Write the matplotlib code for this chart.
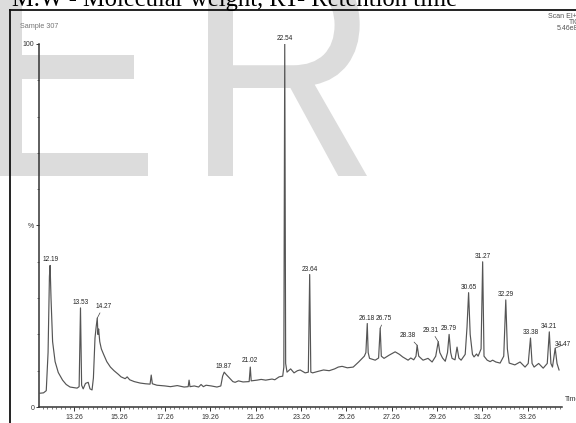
import matplotlib
matplotlib.use("Agg")
import matplotlib.pyplot as plt
import numpy as np
from matplotlib.font_manager import FontProperties
from matplotlib.lines import Line2D
from matplotlib.patches import PathPatch
from matplotlib.textpath import TextPath
from matplotlib.transforms import Affine2D
from matplotlib.ticker import FixedLocator

W, H = 576, 423

# total ion chromatogram (retention time in min, % of base peak)
rt = [
    11.75, 11.90, 12.02, 12.10, 12.16, 12.19, 12.23, 12.30, 12.41, 12.55,
    12.74, 12.90, 13.07, 13.38, 13.47, 13.53, 13.58, 13.65, 13.75, 13.87,
    13.95, 14.04, 14.10, 14.17, 14.22, 14.27, 14.30, 14.33, 14.38, 14.45,
    14.55, 14.69, 14.85, 15.01, 15.20, 15.32, 15.50, 15.59, 15.70, 15.90,
    16.16, 16.40, 16.60, 16.65, 16.70, 16.90, 17.26, 17.50, 17.80, 18.10,
    18.28, 18.32, 18.36, 18.55, 18.74, 18.85, 18.95, 19.07, 19.30, 19.55,
    19.72, 19.80, 19.87, 19.95, 20.10, 20.25, 20.35, 20.50, 20.70, 20.97,
    21.02, 21.06, 21.32, 21.50, 21.70, 21.98, 22.10, 22.29, 22.45, 22.50,
    22.54, 22.58, 22.64, 22.80, 22.95, 23.10, 23.22, 23.44, 23.58, 23.64,
    23.69, 23.77, 24.00, 24.25, 24.50, 24.74, 24.90, 25.07, 25.30, 25.56,
    25.80, 26.05, 26.12, 26.18, 26.22, 26.28, 26.53, 26.68, 26.75, 26.80,
    26.92, 27.15, 27.41, 27.60, 27.74, 27.98, 28.10, 28.23, 28.33, 28.38,
    28.45, 28.64, 28.86, 29.04, 29.20, 29.31, 29.38, 29.50, 29.62, 29.72,
    29.79, 29.86, 29.92, 30.05, 30.14, 30.22, 30.32, 30.50, 30.58, 30.65,
    30.72, 30.82, 30.89, 31.00, 31.07, 31.20, 31.27, 31.33, 31.47, 31.60,
    31.71, 31.85, 32.04, 32.20, 32.29, 32.36, 32.44, 32.69, 32.92, 33.14,
    33.28, 33.38, 33.45, 33.54, 33.74, 33.94, 34.12, 34.21, 34.28, 34.35,
    34.42, 34.47, 34.55, 34.64,
]
tic = [
    3.8, 3.9, 4.5, 15.0, 36.0, 39.0, 30.0, 18.0, 12.5, 9.5,
    7.4, 6.2, 5.5, 5.2, 5.6, 27.3, 6.0, 5.0, 6.5, 6.8,
    5.0, 4.7, 8.0, 19.0, 22.0, 24.5, 20.0, 21.5, 18.0, 16.0,
    14.5, 12.5, 11.0, 10.0, 9.0, 8.3, 7.8, 8.3, 7.5, 7.0,
    6.6, 6.4, 6.3, 8.8, 6.4, 6.0, 5.8, 5.6, 5.9, 5.5,
    5.6, 7.4, 5.6, 5.8, 5.5, 6.2, 5.6, 6.0, 5.8, 5.5,
    5.8, 8.5, 9.6, 9.0, 8.0, 7.0, 6.8, 7.2, 6.9, 7.0,
    11.0, 7.2, 7.4, 7.6, 7.4, 7.7, 7.5, 8.3, 8.5, 11.0,
    100.0, 12.0, 9.6, 10.5, 9.4, 10.0, 10.2, 9.4, 9.6, 36.5,
    9.6, 9.4, 9.8, 10.2, 10.0, 10.5, 11.0, 11.2, 10.8, 11.0,
    12.4, 14.0, 15.0, 23.0, 15.0, 13.4, 12.9, 13.5, 21.7, 14.0,
    13.4, 14.3, 15.2, 14.5, 13.8, 12.9, 13.5, 13.0, 14.0, 17.0,
    14.0, 12.9, 13.4, 12.4, 14.0, 18.0, 15.0, 13.5, 12.6, 15.0,
    20.0, 15.0, 13.4, 13.0, 16.5, 13.5, 12.9, 14.5, 22.0, 31.5,
    20.0, 14.5, 13.8, 14.6, 14.0, 16.0, 40.0, 14.0, 12.9, 12.5,
    12.9, 12.4, 12.1, 14.0, 29.5, 16.0, 12.1, 11.6, 12.4, 11.0,
    12.0, 19.0, 12.0, 11.0, 12.0, 10.7, 12.0, 20.7, 12.0, 11.0,
    14.0, 16.2, 12.0, 10.2,
]

peak_rt = [12.19, 13.53, 14.27, 19.87, 21.02, 22.54, 23.64, 26.18, 26.75,
           28.38, 29.31, 29.79, 30.65, 31.27, 32.29, 33.38, 34.21, 34.47]
# label offset from peak top, in pixels (x right, y up); leader line or not
label_dx = [0, 0, 6, -1, 0, 0, 0, 0, 4, -9, -7, 0, 0, 0, 0, 0, 0, 8]
label_dy = [2, 2, 8, 2, 3, 2, 2, 2, 6, 6, 8, 2, 2, 2, 2, 2, 2, 0]
leader = [False, False, True, False, False, False, False, False, True,
          True, True, False, False, False, False, False, False, True]

xticks = [13.26, 15.26, 17.26, 19.26, 21.26, 23.26, 25.26, 27.26, 29.26, 31.26, 33.26]

plt.rcParams["font.family"] = ["Liberation Sans", "DejaVu Sans"]

fig = plt.figure(figsize=(W / 100, H / 100), dpi=100)
fig.patch.set_facecolor("white")


def px(x, y):
    # pixel (origin top-left) -> figure fraction
    return x / W, 1 - y / H


# --- "ER" watermark, fitted into pixel boxes ---
def watermark(ch, x0, ytop, x1, ybot):
    tp = TextPath((0, 0), ch, size=100, prop=FontProperties(family="Liberation Sans"))
    ext = tp.get_extents()
    sx = (x1 - x0) / ext.width / W
    sy = (ybot - ytop) / ext.height / H
    tr = (Affine2D().translate(-ext.x0, -ext.y0).scale(sx, sy)
          .translate(x0 / W, 1 - ybot / H) + fig.transFigure)
    fig.patches.append(PathPatch(tp, transform=tr, fc="#dcdcdc", ec="none", zorder=0.5))


watermark("E", -4, -36, 148, 176)
watermark("R", 208, -36, 367, 176)

# outer frame of the scanned figure
fig.add_artist(Line2D([px(10, 0)[0], 1.0], [px(0, 10)[1]] * 2, color="#111", lw=1.3, zorder=2))
fig.add_artist(Line2D([px(10, 0)[0]] * 2, [0.0, px(0, 10)[1]], color="#111", lw=1.3, zorder=2))

# caption line above the frame, cut off by the crop
fig.text(*px(12, 6), "M.W - Molecular weight, RT- Retention time", fontsize=17.7,
         family="Liberation Serif", va="baseline", ha="left", zorder=3)

fig.text(*px(20, 26), "Sample 307", fontsize=5.2, color="#777", va="center", zorder=3)
fig.text(*px(548, 16), "Scan EI+", fontsize=5, color="#555", va="center", zorder=3)
fig.text(*px(569, 22), "TIC", fontsize=5, color="#555", va="center", zorder=3)
fig.text(*px(557, 28), "5.46e8", fontsize=5, color="#555", va="center", zorder=3)

ax = fig.add_axes([39 / W, 16 / H, 523 / W, 363 / H], zorder=1)
ax.set_facecolor("none")
ax.plot(rt, tic, color="#555", lw=0.85)
ax.set_xlim(11.70, 34.77)
ax.set_ylim(0, 100)

for s in ("top", "right"):
    ax.spines[s].set_visible(False)
for s in ("left", "bottom"):
    ax.spines[s].set_color("#333")
    ax.spines[s].set_linewidth(1.1)

ax.xaxis.set_major_locator(FixedLocator(xticks))
ax.xaxis.set_minor_locator(FixedLocator(np.arange(11.86, 34.7, 0.2)))
ax.set_xticklabels([f"{t:.2f}" for t in xticks])
ax.tick_params(axis="x", which="major", length=3, width=0.7, pad=2,
               labelsize=5, colors="#333")
ax.tick_params(axis="x", which="minor", length=1.6, width=0.5, colors="#444")

ax.yaxis.set_major_locator(FixedLocator([0, 50, 100]))
ax.yaxis.set_minor_locator(FixedLocator(np.arange(10, 100, 10)))
ax.set_yticklabels(["0", "%", "100"])
ax.tick_params(axis="y", which="major", length=2.5, width=0.7, pad=1,
               labelsize=5, colors="#333")
ax.tick_params(axis="y", which="minor", length=1.5, width=0.5, colors="#444")

fig.text(*px(565, 399), "Time", fontsize=5, color="#333", va="center")

peak_h = np.interp(peak_rt, rt, tic)
for t, h, dx, dy, ld in zip(peak_rt, peak_h, label_dx, label_dy, leader):
    ax.annotate(
        f"{t:.2f}", xy=(t, h), xytext=(dx * 0.72, dy * 0.72), textcoords="offset points",
        ha="center", va="bottom", fontsize=4.7, color="#222",
        arrowprops=dict(arrowstyle="-", color="#444", lw=0.5, shrinkA=0, shrinkB=0) if ld else None,
    )

fig.savefig("out.png", dpi=100)
